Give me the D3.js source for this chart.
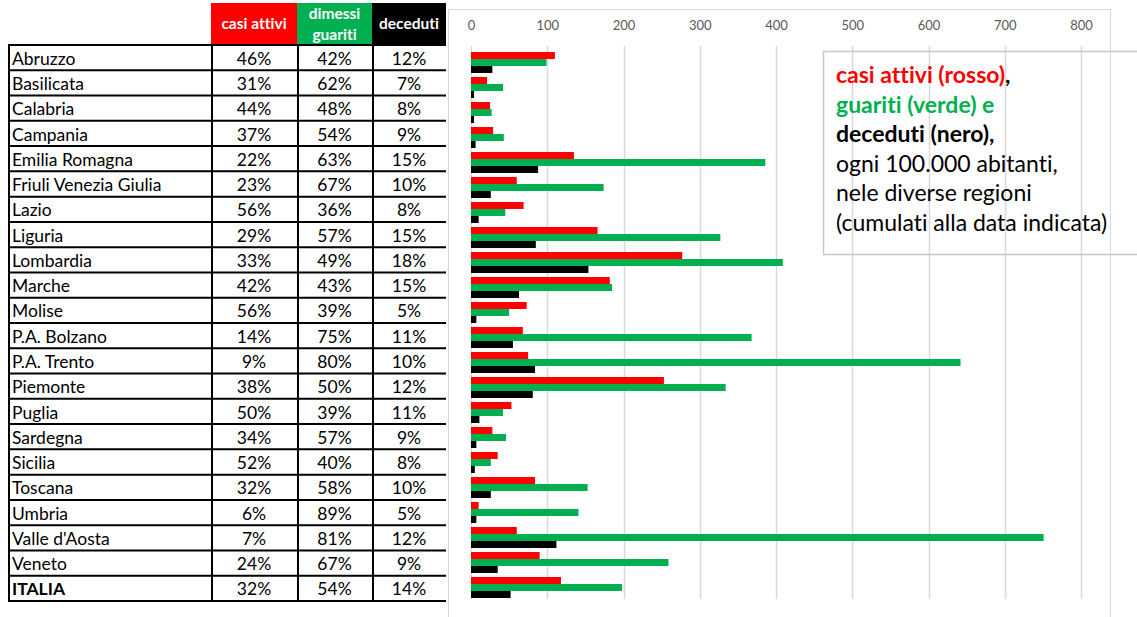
<!DOCTYPE html>
<html>
<head>
<meta charset="utf-8">
<script src="https://cdn.jsdelivr.net/npm/d3@7"></script>
<style>
	body { margin: 0; background: #fff; }
	svg { display: block; font-variant-ligatures: none; }
</style>
</head>
<body>
<div id="chart"></div>
<script>
// dati per regione
const regioni = ["Abruzzo", "Basilicata", "Calabria", "Campania", "Emilia Romagna",
	"Friuli Venezia Giulia", "Lazio", "Liguria", "Lombardia", "Marche", "Molise",
	"P.A. Bolzano", "P.A. Trento", "Piemonte", "Puglia", "Sardegna", "Sicilia",
	"Toscana", "Umbria", "Valle d'Aosta", "Veneto", "ITALIA"];
const pctAttivi = [46, 31, 44, 37, 22, 23, 56, 29, 33, 42, 56, 14, 9, 38, 50, 34, 52, 32, 6, 7, 24, 32];
const pctGuariti = [42, 62, 48, 54, 63, 67, 36, 57, 49, 43, 39, 75, 80, 50, 39, 57, 40, 58, 89, 81, 67, 54];
const pctDeceduti = [12, 7, 8, 9, 15, 10, 8, 15, 18, 15, 5, 11, 10, 12, 11, 9, 8, 10, 5, 12, 9, 14];
// ogni 100.000 abitanti
const casiAttivi = [110, 21, 25, 29, 135, 60, 69, 166, 277, 182, 73, 68, 75, 253, 53, 28, 35, 84, 10, 60, 90, 118];
const guariti = [99, 42, 27, 43, 386, 174, 45, 327, 409, 185, 50, 368, 642, 334, 42, 46, 26, 153, 141, 751, 259, 198];
const deceduti = [28, 4, 4, 6, 88, 26, 10, 85, 154, 63, 7, 55, 84, 81, 11, 7, 5, 26, 7, 112, 35, 52];
const xTicks = [0, 100, 200, 300, 400, 500, 600, 700, 800];

const serie = ["attivi", "guariti", "deceduti"];
const colori = { attivi: "#ff0000", guariti: "#00b050", deceduti: "#000000" };
const intestazioni = [["casi attivi"], ["dimessi", "guariti"], ["deceduti"]];

const FWIDTH = 1137,
	FHEIGHT = 617;
const FONT = "Lato, 'Open Sans', sans-serif";

const svg = d3
	.select("#chart")
	.append("svg")
	.attr("width", FWIDTH)
	.attr("height", FHEIGHT)
	.style("font-family", FONT);

// ---- tabella ----
const colX = [8, 211, 297, 372, 446];
const rowY = d3.scaleBand().domain(regioni).range([45, 601]);

const tab = svg.append("g").attr("class", "tabella");

// celle intestazione
intestazioni.forEach((righe, i) => {
	tab.append("rect")
		.attr("x", colX[i + 1])
		.attr("y", 3)
		.attr("width", colX[i + 2] - colX[i + 1])
		.attr("height", 42)
		.attr("fill", colori[serie[i]]);
	const cx = (colX[i + 1] + colX[i + 2]) / 2;
	righe.forEach((t, j) => {
		tab.append("text")
			.attr("x", cx)
			.attr("y", righe.length === 1 ? 24 : 14 + j * 21)
			.attr("dy", "0.35em")
			.attr("text-anchor", "middle")
			.attr("fill", "#fff")
			.attr("font-weight", "bold")
			.attr("font-size", "15.5px")
			.text(t);
	});
});

const righe = tab
	.selectAll(".riga")
	.data(regioni)
	.enter()
	.append("g")
	.attr("class", "riga")
	.attr("transform", (d) => `translate(0, ${rowY(d)})`);

righe.append("text")
	.attr("x", 12)
	.attr("y", rowY.bandwidth() / 2 + 1)
	.attr("dy", "0.35em")
	.attr("font-size", "17.5px")
	.attr("font-weight", (d) => (d === "ITALIA" ? "bold" : "normal"))
	.text((d) => d);

[pctAttivi, pctGuariti, pctDeceduti].forEach((arr, k) => {
	righe.append("text")
		.attr("x", (colX[k + 1] + colX[k + 2]) / 2)
		.attr("y", rowY.bandwidth() / 2 + 1)
		.attr("dy", "0.35em")
		.attr("text-anchor", "middle")
		.attr("font-size", "17.5px")
		.text((d, i) => arr[i] + "%");
});

// bordi
const yLinee = regioni.map((d) => rowY(d)).concat([601]);
tab.selectAll(".hline")
	.data(yLinee)
	.enter()
	.append("line")
	.attr("x1", 8)
	.attr("x2", 446)
	.attr("y1", (d) => d)
	.attr("y2", (d) => d)
	.attr("stroke", "#000")
	.attr("stroke-width", 2);
tab.selectAll(".vline")
	.data(colX.slice(0, 4))
	.enter()
	.append("line")
	.attr("x1", (d) => d + 1)
	.attr("x2", (d) => d + 1)
	.attr("y1", 45)
	.attr("y2", 602)
	.attr("stroke", "#000")
	.attr("stroke-width", 2);

// ---- grafico ----
svg.append("rect")
	.attr("x", 448.5)
	.attr("y", 9.5)
	.attr("width", 662)
	.attr("height", 620)
	.attr("fill", "none")
	.attr("stroke", "#d9d9d9");

const x = d3.scaleLinear().domain([0, 800]).range([471, 1081]);
const y0 = d3.scaleBand().domain(regioni).range([50, 600]);
const y1 = d3.scaleBand().domain(serie).range([2, 23]);

const grid = svg.append("g").attr("class", "grid");
grid.selectAll("line")
	.data(xTicks)
	.enter()
	.append("line")
	.attr("x1", (d) => Math.round(x(d)) + 0.5)
	.attr("x2", (d) => Math.round(x(d)) + 0.5)
	.attr("y1", 46)
	.attr("y2", 599)
	.attr("stroke", "#d9d9d9")
	.attr("stroke-width", 1.5);

const asse = svg
	.append("g")
	.attr("transform", "translate(0, 38)")
	.call(d3.axisTop(x).tickValues(xTicks).tickSize(0).tickPadding(0));
asse.select(".domain").remove();
asse.selectAll("text")
	.attr("y", -8)
	.attr("fill", "#595959")
	.style("font-family", FONT)
	.style("font-size", "13px");

const valori = regioni.map((r, i) => ({
	regione: r,
	attivi: casiAttivi[i],
	guariti: guariti[i],
	deceduti: deceduti[i],
}));

const gruppi = svg
	.append("g")
	.attr("class", "barre")
	.selectAll("g")
	.data(valori)
	.enter()
	.append("g")
	.attr("transform", (d) => `translate(0, ${y0(d.regione)})`);

gruppi.selectAll("rect")
	.data((d) => serie.map((s) => ({ s: s, v: d[s] })))
	.enter()
	.append("rect")
	.attr("x", x(0))
	.attr("y", (d) => y1(d.s))
	.attr("width", (d) => x(d.v) - x(0))
	.attr("height", y1.bandwidth())
	.attr("fill", (d) => colori[d.s]);

// ---- legenda ----
svg.append("rect")
	.attr("x", 823.5)
	.attr("y", 51.5)
	.attr("width", 330)
	.attr("height", 203)
	.attr("fill", "none")
	.attr("stroke", "#c8c8c8")
	.attr("stroke-width", 1.5);

const legenda = [
	[{ t: "casi attivi (rosso)", c: colori.attivi, b: true }, { t: ",", c: "#000", b: true }],
	[{ t: "guariti (verde) e", c: colori.guariti, b: true }],
	[{ t: "deceduti (nero),", c: "#000", b: true }],
	[{ t: "ogni 100.000 abitanti,", c: "#000", b: false }],
	[{ t: "nele diverse regioni", c: "#000", b: false }],
	[{ t: "(cumulati alla data indicata)", c: "#000", b: false }],
];

const leg = svg.append("g").attr("class", "legenda");
legenda.forEach((parti, i) => {
	const t = leg
		.append("text")
		.attr("x", 836)
		.attr("y", 75 + i * 29.6)
		.attr("dy", "0.35em")
		.attr("font-size", "23px");
	parti.forEach((p) => {
		t.append("tspan")
			.attr("fill", p.c)
			.attr("font-weight", p.b ? "bold" : "normal")
			.text(p.t);
	});
});
</script>
</body>
</html>
